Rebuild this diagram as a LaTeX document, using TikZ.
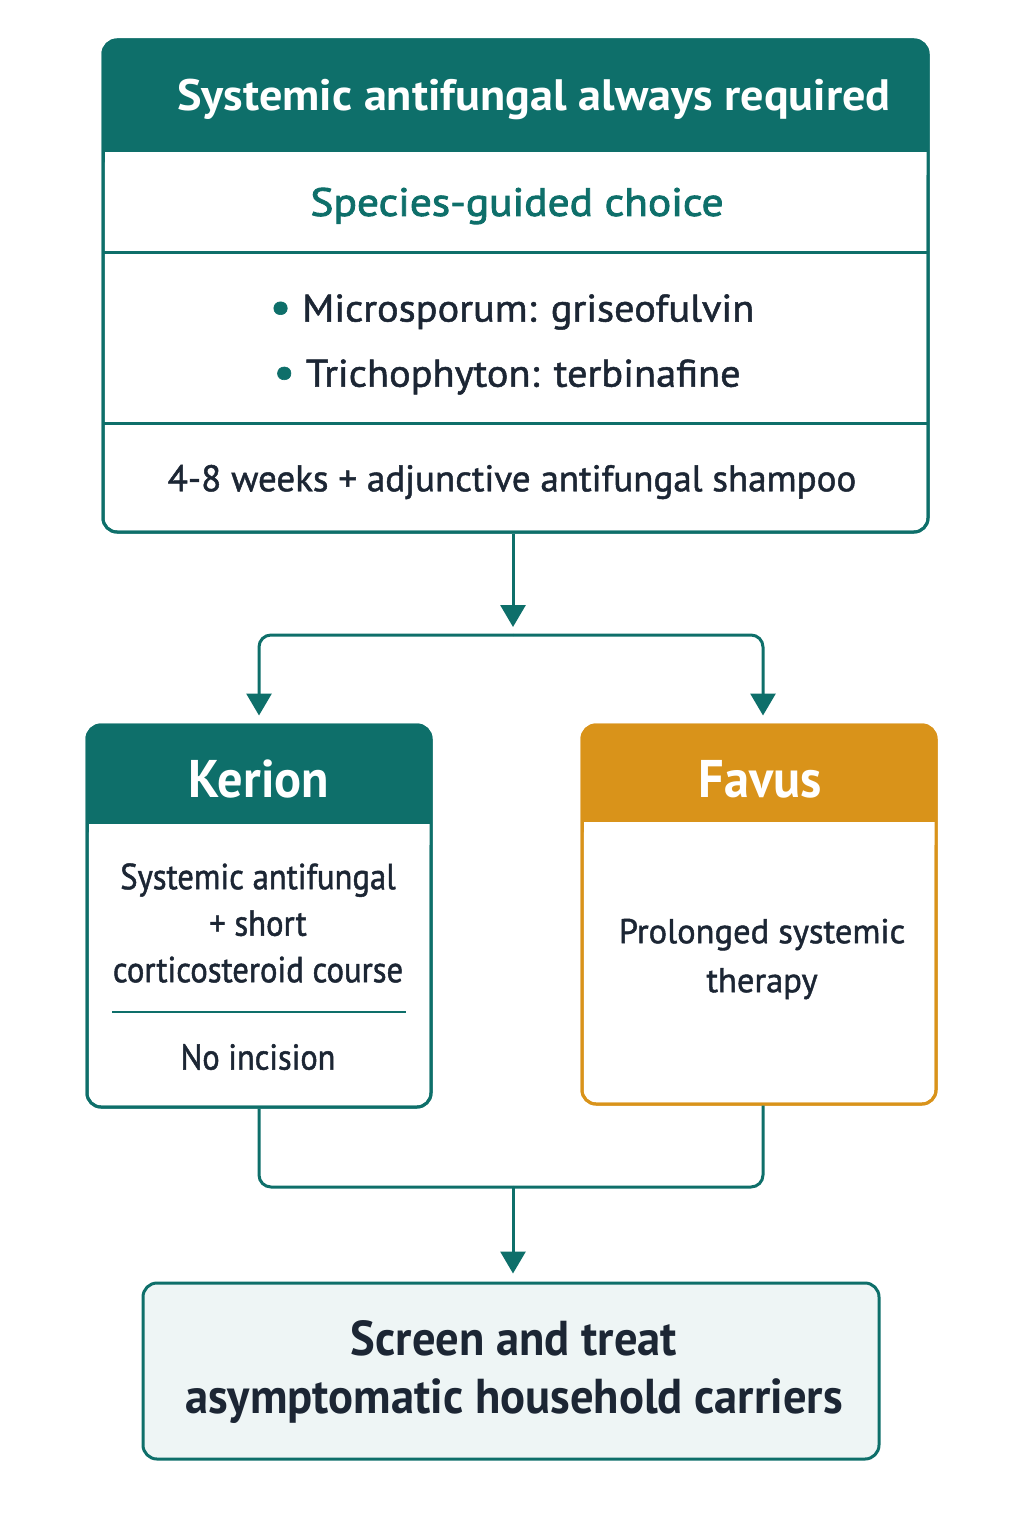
\documentclass[tikz,border=0pt]{standalone}
\usepackage{fontspec}
\setmainfont{PT Sans}[FakeStretch=0.9]
\newfontfamily\bodyA{PT Sans}[FakeStretch=0.9, FakeBold=1.3]
\newfontfamily\bodyB{PT Sans}[FakeStretch=1.0, FakeBold=1.3]
\newfontfamily\bodyC{PT Sans}[FakeStretch=1.05, FakeBold=1.3]
\newfontfamily\specfont{PT Sans}[FakeStretch=1.1, FakeBold=2.2]
\newfontfamily\headfont{PT Sans}[FakeStretch=1.05]
\newfontfamily\titlefont{PT Sans}[FakeStretch=0.95]
\usetikzlibrary{arrows.meta}
\definecolor{tealc}{HTML}{0E6F6A}
\definecolor{orangec}{HTML}{D9931A}
\definecolor{inkc}{HTML}{1C2634}
\definecolor{palec}{HTML}{EEF5F5}
\tikzset{
  box/.style={draw=tealc, line width=3pt, rounded corners=14pt, fill=white, inner sep=0pt},
  conn/.style={draw=tealc, line width=3pt},
  tip/.style={-{Triangle[width=25pt,length=22pt]}},
  bodytxt/.style={text=inkc, inner sep=0pt, align=center},
  headtxt/.style={text=white, inner sep=0pt},
}
\newcommand{\bul}{{\color{tealc}\fontsize{46}{46}\selectfont\raisebox{-1pt}{•}}}
\begin{document}
\begin{tikzpicture}[x=1pt,y=-1pt]
\useasboundingbox (0,0) rectangle (1024,1536);
\fill[white] (0,0) rectangle (1024,1536);
% ---------- top box
\node[box, minimum width=825pt, minimum height=492pt] (top) at (515.5,286) {};
\fill[tealc, rounded corners=14pt] (103,40) rectangle (928,170);
\fill[white] (104.5,150) rectangle (926.5,175);
\draw[conn] (103,150) -- (928,150);
\draw[conn] (103,252) -- (928,252);
\draw[conn] (103,423) -- (928,423);
\draw[tealc, line width=3pt, rounded corners=14pt] (103,40) rectangle (928,532);
\node[headtxt, font=\headfont\fontsize{44}{50}\selectfont\bfseries] (h1) at (534,99) {Systemic antifungal always required};
\node[bodytxt, text=tealc, font=\specfont\fontsize{39.5}{46}\selectfont] (species) at (517,206) {Species-guided choice};
\node[bodytxt, font=\bodyC\fontsize{38.5}{46}\selectfont] (b1) at (512,312) {\bul\ Microsporum: griseofulvin};
\node[bodytxt, font=\bodyC\fontsize{38.5}{46}\selectfont] (b2) at (507,377) {\bul\ Trichophyton: terbinafine};
\node[bodytxt, font=\bodyB\fontsize{37}{46}\selectfont] (weeks) at (512,482) {4-8 weeks + adjunctive antifungal shampoo};
% ---------- kerion
\node[box, minimum width=344pt, minimum height=382pt] (kerion) at (259,916) {};
\fill[tealc, rounded corners=14pt] (87,725) rectangle (431,840);
\fill[white] (88.5,822) rectangle (429.5,845);
\draw[conn] (87,822) -- (431,822);
\draw[tealc, line width=3pt, rounded corners=14pt] (87,725) rectangle (431,1107);
\node[headtxt, font=\titlefont\fontsize{53}{60}\selectfont\bfseries] (kt) at (259,779) {Kerion};
\node[bodytxt, font=\bodyA\fontsize{36.3}{46.5}\selectfont] (kb) at (258,923) {Systemic antifungal\\+ short\\corticosteroid course};
\draw[tealc, line width=2.5pt] (112,1012) -- (406,1012);
\node[bodytxt, font=\bodyA\fontsize{36}{46}\selectfont] (kn) at (258,1057) {No incision};
% ---------- favus
\node[box, draw=orangec, minimum width=354pt, minimum height=379pt] (favus) at (759,914.5) {};
\fill[orangec, rounded corners=14pt] (582,725) rectangle (936,840);
\fill[white] (583.5,822) rectangle (934.5,845);
\draw[orangec, line width=3pt, rounded corners=14pt] (582,725) rectangle (936,1104);
\node[headtxt, font=\titlefont\fontsize{53}{60}\selectfont\bfseries] (ft) at (760,779) {Favus};
\node[bodytxt, font=\bodyB\fontsize{34.5}{49}\selectfont] (fb) at (762,959) {Prolonged systemic\\therapy};
% ---------- bottom
\node[box, fill=palec, minimum width=736pt, minimum height=176pt] (bottom) at (511,1371) {};
\node[bodytxt, font=\titlefont\fontsize{49}{58.5}\selectfont\bfseries] (bt) at (514,1372) {Screen and treat\\asymptomatic household carriers};
% ---------- connectors
\coordinate (split) at (513,635);
\coordinate (merge) at (513,1187);
\draw[conn, tip] (top.south -| split) -- ([yshift=8pt]split);
\draw[conn, tip, rounded corners=12pt] (split) -| ([yshift=8pt]kerion.north);
\draw[conn, tip, rounded corners=12pt] (split) -| ([xshift=4pt,yshift=8pt]favus.north);
\draw[conn, rounded corners=12pt] (kerion.south) |- (merge);
\draw[conn, rounded corners=12pt] ([xshift=4pt]favus.south) |- (merge);
\draw[conn, tip] (merge) -- ([yshift=8pt]bottom.north -| merge);
\end{tikzpicture}
\end{document}
